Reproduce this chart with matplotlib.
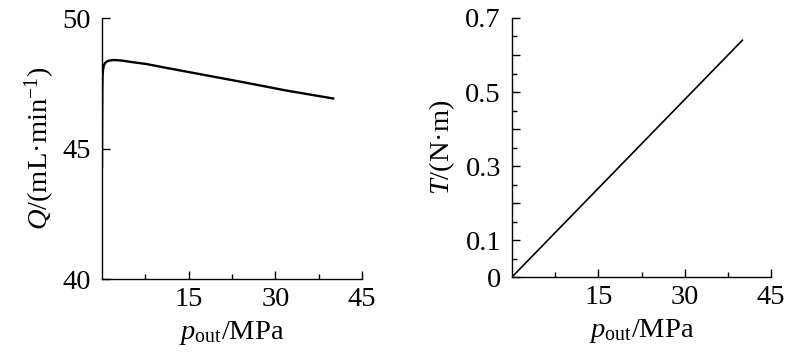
import numpy as np
import matplotlib
matplotlib.use('Agg')
import matplotlib.pyplot as plt
from matplotlib.ticker import FixedLocator, FuncFormatter

plt.rcParams['font.family'] = ['Liberation Serif', 'DejaVu Serif']
plt.rcParams['mathtext.fontset'] = 'custom'
plt.rcParams['mathtext.rm'] = 'Liberation Serif'
plt.rcParams['mathtext.it'] = 'Liberation Serif:italic'

# flow rate vs outlet pressure
p_flow = [0, 0.02, 0.05, 0.1, 0.2, 0.35, 0.5, 0.8, 1.2, 1.8, 2.5, 3.5, 5, 7.7, 10, 17, 25, 32, 40]
Q_flow = [44.3, 46.0, 47.2, 47.8, 48.05, 48.2, 48.27, 48.33, 48.37, 48.39, 48.39, 48.37, 48.32, 48.24, 48.14, 47.85, 47.52, 47.22, 46.92]

# torque vs outlet pressure
p_torque = [0, 10, 20, 30, 40]
T_torque = [0, 0.16, 0.32, 0.48, 0.64]

x_major = [15, 30, 45]
x_minor = [7.5, 22.5, 37.5]
Q_ticks = [40, 45, 50]
T_major = [0, 0.1, 0.2, 0.3, 0.4, 0.5, 0.6, 0.7]
T_minor = [0.05, 0.15, 0.25, 0.35, 0.45, 0.55, 0.65]
T_labeled = ['0', '0.1', '', '0.3', '', '0.5', '', '0.7']

fs = 20.5

fig = plt.figure(figsize=(8, 3.55), dpi=100)
ax1 = fig.add_axes([0.1275, 0.214, 0.325, 0.735])
ax2 = fig.add_axes([0.64, 0.2197, 0.324, 0.7296])

for ax in (ax1, ax2):
    ax.spines['top'].set_visible(False)
    ax.spines['right'].set_visible(False)
    for s in ('left', 'bottom'):
        ax.spines[s].set_linewidth(1.0)
    ax.set_xlim(0, 45)
    ax.xaxis.set_major_locator(FixedLocator(x_major))
    ax.xaxis.set_minor_locator(FixedLocator(x_minor))
    ax.tick_params(which='major', direction='in', length=6, width=1.0,
                   labelsize=fs, pad=6)
    ax.tick_params(which='minor', direction='in', length=3.5, width=1.0)
    ax.tick_params(axis='y', which='major', pad=8)
    ax.set_xlabel(r'$\mathit{p}_{\mathrm{out}}$/MPa', fontsize=fs, labelpad=5)

ax1.plot(p_flow, Q_flow, color='black', lw=1.7)
ax1.set_ylim(40, 50)
ax1.yaxis.set_major_locator(FixedLocator(Q_ticks))
ax1.set_ylabel(r'$\mathit{Q}$/(mL·min$^{-1}$)', fontsize=fs, labelpad=4)

ax2.plot(p_torque, T_torque, color='black', lw=1.2)
ax2.set_ylim(0, 0.7)
ax2.yaxis.set_major_locator(FixedLocator(T_major))
ax2.yaxis.set_minor_locator(FixedLocator(T_minor))
ax2.yaxis.set_major_formatter(FuncFormatter(lambda v, pos: T_labeled[pos] if pos is not None and pos < len(T_labeled) else ''))
ax2.set_ylabel(r'$\mathit{T}$/(N·m)', fontsize=fs, labelpad=6)

fig.savefig('out.png', dpi=100)
